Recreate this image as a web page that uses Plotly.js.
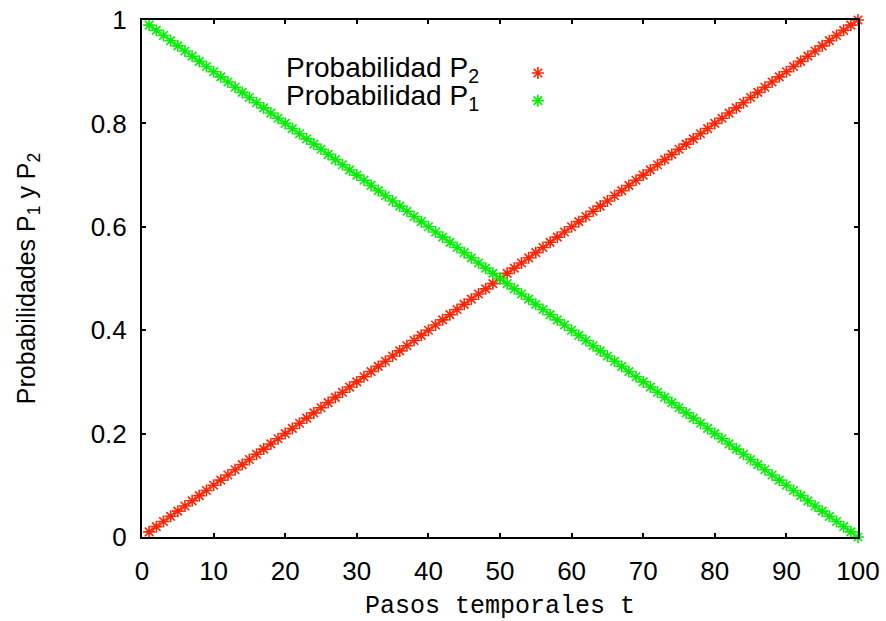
<!DOCTYPE html>
<html>
<head>
<meta charset="utf-8">
<script src="https://cdn.plot.ly/plotly-3.0.1.min.js"></script>
<style>html,body{margin:0;padding:0;background:#fff}#chart{width:886px;height:621px}</style>
</head>
<body>
<div id="chart"></div>
<script>
var pasos = [1,2,3,4,5,6,7,8,9,10,11,12,13,14,15,16,17,18,19,20,21,22,23,24,25,26,27,28,29,30,31,32,33,34,35,36,37,38,39,40,41,42,43,44,45,46,47,48,49,50,51,52,53,54,55,56,57,58,59,60,61,62,63,64,65,66,67,68,69,70,71,72,73,74,75,76,77,78,79,80,81,82,83,84,85,86,87,88,89,90,91,92,93,94,95,96,97,98,99,100];
var probP2 = [0.01,0.02,0.03,0.04,0.05,0.06,0.07,0.08,0.09,0.10,0.11,0.12,0.13,0.14,0.15,0.16,0.17,0.18,0.19,0.20,0.21,0.22,0.23,0.24,0.25,0.26,0.27,0.28,0.29,0.30,0.31,0.32,0.33,0.34,0.35,0.36,0.37,0.38,0.39,0.40,0.41,0.42,0.43,0.44,0.45,0.46,0.47,0.48,0.49,0.50,0.51,0.52,0.53,0.54,0.55,0.56,0.57,0.58,0.59,0.60,0.61,0.62,0.63,0.64,0.65,0.66,0.67,0.68,0.69,0.70,0.71,0.72,0.73,0.74,0.75,0.76,0.77,0.78,0.79,0.80,0.81,0.82,0.83,0.84,0.85,0.86,0.87,0.88,0.89,0.90,0.91,0.92,0.93,0.94,0.95,0.96,0.97,0.98,0.99,1.00];
var probP1 = [0.99,0.98,0.97,0.96,0.95,0.94,0.93,0.92,0.91,0.90,0.89,0.88,0.87,0.86,0.85,0.84,0.83,0.82,0.81,0.80,0.79,0.78,0.77,0.76,0.75,0.74,0.73,0.72,0.71,0.70,0.69,0.68,0.67,0.66,0.65,0.64,0.63,0.62,0.61,0.60,0.59,0.58,0.57,0.56,0.55,0.54,0.53,0.52,0.51,0.50,0.49,0.48,0.47,0.46,0.45,0.44,0.43,0.42,0.41,0.40,0.39,0.38,0.37,0.36,0.35,0.34,0.33,0.32,0.31,0.30,0.29,0.28,0.27,0.26,0.25,0.24,0.23,0.22,0.21,0.20,0.19,0.18,0.17,0.16,0.15,0.14,0.13,0.12,0.11,0.10,0.09,0.08,0.07,0.06,0.05,0.04,0.03,0.02,0.01,0.00];
var seriesNames = ['Probabilidad P<sub>2</sub>', 'Probabilidad P<sub>1</sub>'];
var xTitle = 'Pasos temporales t';
var yTitle = 'Probabilidades P<sub>1</sub> y P<sub>2</sub>';

var sans = 'Liberation Sans, Arial, Helvetica, sans-serif';
var traces = [
  {x: pasos, y: probP2, type: 'scatter', mode: 'markers', name: ' ',
   marker: {symbol: 'asterisk-open', size: 10, color: '#ff2200', line: {color: '#ff2200', width: 1.6}},
   cliponaxis: false},
  {x: pasos, y: probP1, type: 'scatter', mode: 'markers', name: ' ',
   marker: {symbol: 'asterisk-open', size: 10, color: '#00f000', line: {color: '#00f000', width: 1.6}},
   cliponaxis: false}
];
var axisCommon = {
  showline: true, linecolor: '#000', linewidth: 2, mirror: 'ticks',
  ticks: 'inside', ticklen: 4, tickwidth: 2, tickcolor: '#000',
  showgrid: false, zeroline: false,
  tickfont: {family: sans, size: 26, color: '#000'}
};
var layout = {
  width: 886, height: 621,
  paper_bgcolor: '#fff', plot_bgcolor: '#fff',
  margin: {l: 142, r: 28, t: 20, b: 84},
  xaxis: Object.assign({}, axisCommon, {
    range: [0, 100], dtick: 10, tick0: 0, ticklabelstandoff: 10,
    title: {text: xTitle, font: {family: 'Liberation Mono, Courier New, monospace', size: 25, color: '#000'}, standoff: 16}
  }),
  yaxis: Object.assign({}, axisCommon, {
    range: [0, 1], dtick: 0.2, tick0: 0, ticklabelstandoff: 8,
    title: {text: yTitle, font: {family: sans, size: 25, color: '#000'}, standoff: 48}
  }),
  showlegend: true,
  legend: {x: 0.525, y: 0.934, xanchor: 'left', yanchor: 'top', bgcolor: 'rgba(0,0,0,0)',
           font: {family: sans, size: 19, color: '#000'}, tracegroupgap: 0, itemwidth: 30},
  annotations: [
    {xref: 'paper', yref: 'paper', x: 0.473, y: (537 - 69) / 517, xanchor: 'right', yanchor: 'middle',
     text: seriesNames[0], showarrow: false, font: {family: sans, size: 28, color: '#000'}},
    {xref: 'paper', yref: 'paper', x: 0.473, y: (537 - 97) / 517, xanchor: 'right', yanchor: 'middle',
     text: seriesNames[1], showarrow: false, font: {family: sans, size: 28, color: '#000'}}
  ]
};
Plotly.newPlot('chart', traces, layout, {displayModeBar: false, staticPlot: true});
</script>
</body>
</html>
